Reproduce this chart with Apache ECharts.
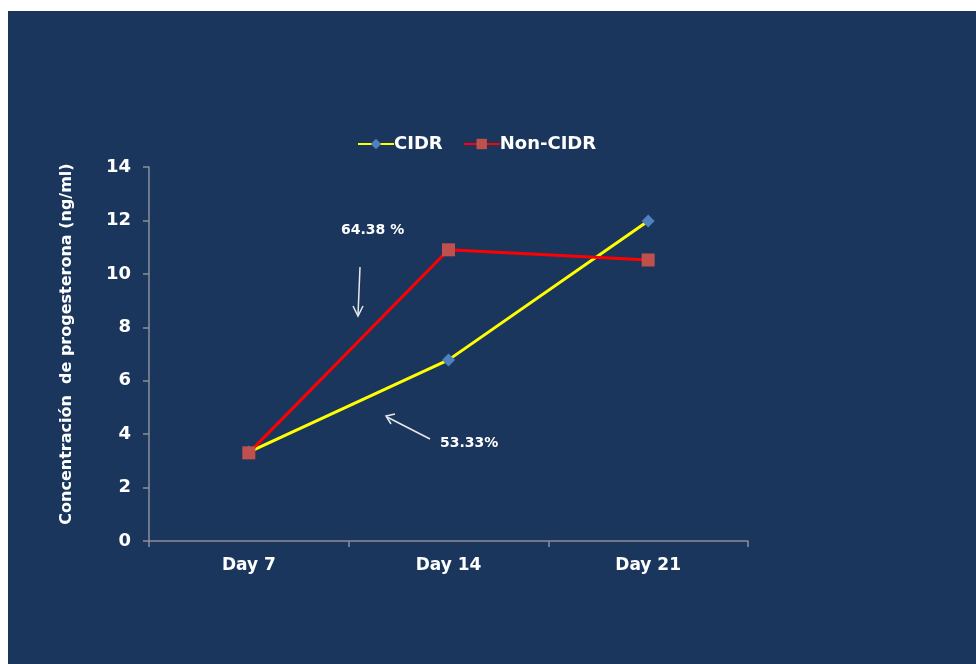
<!DOCTYPE html>
<html><head><meta charset="utf-8">
<script src="https://cdn.jsdelivr.net/npm/echarts@6/dist/echarts.min.js"></script>
<style>html,body{margin:0;padding:0;background:#fff;}#c{position:absolute;left:8px;top:11px;width:968px;height:653px;}</style>
</head><body><div id="c"></div>
<script>
const categories = ['Day 7', 'Day 14', 'Day 21'];
const cidr = [3.33, 6.78, 11.98];
const nonCidr = [3.3, 10.9, 10.52];
const seriesNames = ['CIDR', 'Non-CIDR'];
const yTitle = 'Concentración  de progesterona (ng/ml)';
const note1 = '64.38 %';
const note2 = '53.33%';

const FONT = 'DejaVu Sans, Liberation Sans, Arial';
const chart = echarts.init(document.getElementById('c'));
const txt = {color:'#ffffff', fontFamily:FONT, fontWeight:'bold'};
chart.setOption({
  backgroundColor:'#1a365d',
  animation:false,
  legend:{top:119, left:344, itemGap:20, itemWidth:36, itemHeight:13,
    textStyle:Object.assign({fontSize:18, padding:[0,0,0,-5]}, txt),
    data:seriesNames},
  grid:{left:141, right:228, top:156, bottom:123},
  xAxis:{type:'category', data:categories, boundaryGap:true,
    axisLine:{lineStyle:{color:'#8a8f99', width:1.5}},
    axisTick:{show:true, length:6, lineStyle:{color:'#8a8f99', width:1.5}},
    axisLabel:Object.assign({fontSize:17, margin:16}, txt)},
  yAxis:{type:'value', min:0, max:14, interval:2,
    name:yTitle, nameLocation:'middle', nameGap:74, nameRotate:90,
    nameTextStyle:Object.assign({fontSize:16, padding:[0,0,0,20]}, txt),
    axisLine:{show:true, lineStyle:{color:'#8a8f99', width:1.5}},
    axisTick:{show:true, length:6, lineStyle:{color:'#8a8f99', width:1.5}},
    splitLine:{show:false},
    axisLabel:Object.assign({fontSize:18, margin:18}, txt)},
  series:[
    {name:seriesNames[0], type:'line', data:cidr, symbol:'diamond', symbolSize:13,
      lineStyle:{color:'#ffff00', width:3}, itemStyle:{color:'#4f81bd'}, z:2},
    {name:seriesNames[1], type:'line', data:nonCidr, symbol:'rect', symbolSize:13,
      lineStyle:{color:'#ff0000', width:3}, itemStyle:{color:'#c0504d'}, z:3}
  ],
  graphic:[
    {type:'text', left:333, top:212, style:{text:note1, fill:'#ffffff', font:'bold 14px ' + FONT}},
    {type:'text', left:432, top:425, style:{text:note2, fill:'#ffffff', font:'bold 14px ' + FONT}},
    {type:'line', shape:{x1:352, y1:256, x2:350, y2:304}, style:{stroke:'#e8e8e8', lineWidth:1.5}},
    {type:'polyline', shape:{points:[[345,295],[350,305],[355,295]]}, style:{stroke:'#e8e8e8', lineWidth:1.5, fill:null}},
    {type:'line', shape:{x1:422, y1:428, x2:379, y2:406}, style:{stroke:'#e8e8e8', lineWidth:1.5}},
    {type:'polyline', shape:{points:[[387,403],[378,405],[383,413]]}, style:{stroke:'#e8e8e8', lineWidth:1.5, fill:null}}
  ]
});
</script></body></html>
